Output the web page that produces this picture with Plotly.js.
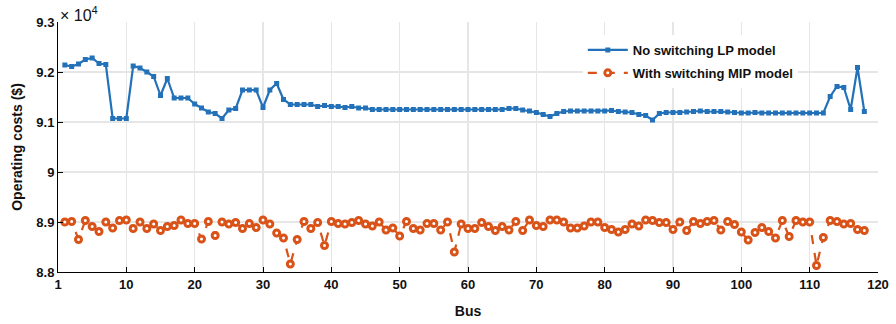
<!DOCTYPE html>
<html>
<head>
<meta charset="utf-8">
<script src="https://cdn.plot.ly/plotly-3.0.1.min.js"></script>
<style>html,body{margin:0;padding:0;background:#fff;}#chart{width:896px;height:324px;}</style>
</head>
<body>
<div id="chart"></div>
<script>
var bus = [1,2,3,4,5,6,7,8,9,10,11,12,13,14,15,16,17,18,19,20,21,22,23,24,25,26,27,28,29,30,
31,32,33,34,35,36,37,38,39,40,41,42,43,44,45,46,47,48,49,50,51,52,53,54,55,56,57,58,59,60,
61,62,63,64,65,66,67,68,69,70,71,72,73,74,75,76,77,78,79,80,81,82,83,84,85,86,87,88,89,90,
91,92,93,94,95,96,97,98,99,100,101,102,103,104,105,106,107,108,109,110,111,112,113,114,115,116,117,118];

var noSwitchingLP = [
9.214,9.211,9.216,9.225,9.228,9.217,9.215,9.107,9.107,9.107,
9.212,9.208,9.200,9.191,9.153,9.187,9.148,9.148,9.148,9.136,
9.128,9.120,9.117,9.107,9.124,9.127,9.164,9.164,9.164,9.129,
9.164,9.177,9.145,9.135,9.135,9.135,9.135,9.131,9.133,9.131,
9.131,9.129,9.131,9.128,9.128,9.125,9.125,9.125,9.125,9.125,
9.125,9.125,9.125,9.125,9.125,9.125,9.125,9.125,9.125,9.125,
9.125,9.125,9.125,9.125,9.125,9.127,9.127,9.124,9.122,9.119,
9.115,9.111,9.117,9.121,9.122,9.122,9.122,9.122,9.122,9.122,
9.123,9.121,9.120,9.119,9.115,9.113,9.104,9.117,9.119,9.119,
9.119,9.120,9.121,9.122,9.121,9.121,9.121,9.120,9.119,9.118,
9.118,9.119,9.118,9.118,9.118,9.118,9.118,9.118,9.118,9.118,
9.118,9.118,9.151,9.171,9.169,9.125,9.209,9.121];

var withSwitchingMIP = [
8.900,8.901,8.865,8.903,8.891,8.881,8.900,8.888,8.903,8.904,
8.887,8.900,8.887,8.896,8.883,8.891,8.893,8.904,8.897,8.897,
8.866,8.901,8.873,8.900,8.896,8.899,8.887,8.897,8.889,8.904,
8.896,8.878,8.868,8.816,8.865,8.901,8.887,8.899,8.853,8.901,
8.897,8.896,8.899,8.903,8.896,8.892,8.900,8.884,8.888,8.872,
8.901,8.887,8.884,8.897,8.897,8.884,8.900,8.840,8.896,8.887,
8.887,8.899,8.891,8.883,8.891,8.884,8.901,8.883,8.904,8.893,
8.891,8.904,8.904,8.900,8.888,8.888,8.892,8.900,8.900,8.889,
8.885,8.880,8.885,8.896,8.892,8.904,8.903,8.899,8.899,8.885,
8.900,8.883,8.901,8.897,8.901,8.903,8.884,8.901,8.895,8.880,
8.864,8.879,8.889,8.881,8.868,8.903,8.871,8.903,8.900,8.900,
8.813,8.869,8.903,8.901,8.896,8.897,8.885,8.883];

var xTickVals = [0,10,20,30,40,50,60,70,80,90,100,110,120];
var xTickText = ['1','10','20','30','40','50','60','70','80','90','100','110','120'];
var yTickVals = [8.8,8.9,9.0,9.1,9.2,9.3];
var yTickText = ['8.8','8.9','9','9.1','9.2','9.3'];

var fam = 'Liberation Sans, Arial, Helvetica, sans-serif';
var blue = '#2372b9';
var orange = '#d95319';

var traces = [
  {
    x: bus, y: noSwitchingLP, type: 'scatter', mode: 'lines+markers',
    name: 'No switching LP model', legendgroup: 'a',
    line: {color: blue, width: 2.2},
    marker: {symbol: 'square', size: 5, color: blue}
  },
  {
    x: bus, y: withSwitchingMIP, type: 'scatter', mode: 'lines+markers',
    name: 'With switching MIP model', legendgroup: 'b',
    line: {color: orange, width: 2.2, dash: 'dash'},
    marker: {symbol: 'circle', size: 6, color: '#ffffff', line: {color: orange, width: 3}}
  }
];

var layout = {
  width: 896, height: 324,
  margin: {l: 58, r: 18, t: 22, b: 52},
  paper_bgcolor: '#fff', plot_bgcolor: '#fff',
  showlegend: true,
  font: {family: fam, color: '#000'},
  xaxis: {
    range: [0, 120], tickvals: xTickVals, ticktext: xTickText,
    ticks: 'inside', ticklen: 5, tickwidth: 1, tickcolor: '#000',
    showline: true, linecolor: '#000', linewidth: 1,
    showgrid: true, gridcolor: '#e6e6e6', gridwidth: 1.5, zeroline: false,
    tickfont: {family: fam, size: 13, weight: 'bold', color: '#111'},
    title: {text: 'Bus', font: {family: fam, size: 14, weight: 'bold', color: '#111'}, standoff: 15}
  },
  yaxis: {
    range: [8.8, 9.3], tickvals: yTickVals, ticktext: yTickText,
    ticks: 'inside', ticklen: 5, tickwidth: 1, tickcolor: '#000',
    showline: true, linecolor: '#000', linewidth: 1,
    showgrid: true, gridcolor: '#e6e6e6', gridwidth: 1.5, zeroline: false,
    tickfont: {family: fam, size: 13, weight: 'bold', color: '#111'},
    title: {text: 'Operating costs ($)', font: {family: fam, size: 14, weight: 'bold', color: '#111'}, standoff: 10}
  },
  legend: {
    x: 0.64, y: 0.948, xanchor: 'left', yanchor: 'top',
    bgcolor: '#fff', borderwidth: 0, tracegroupgap: 3,
    font: {family: fam, size: 13, weight: 'bold', color: '#111'},
    itemwidth: 40
  },
  annotations: [
    {xref: 'paper', yref: 'paper', x: 0, y: 1, xanchor: 'left', yanchor: 'bottom',
     text: '× 10<sup>4</sup>', showarrow: false, font: {family: fam, size: 16, color: '#111'}, yshift: -4}
  ]
};

Plotly.newPlot('chart', traces, layout, {displayModeBar: false, staticPlot: true});
</script>
</body>
</html>
